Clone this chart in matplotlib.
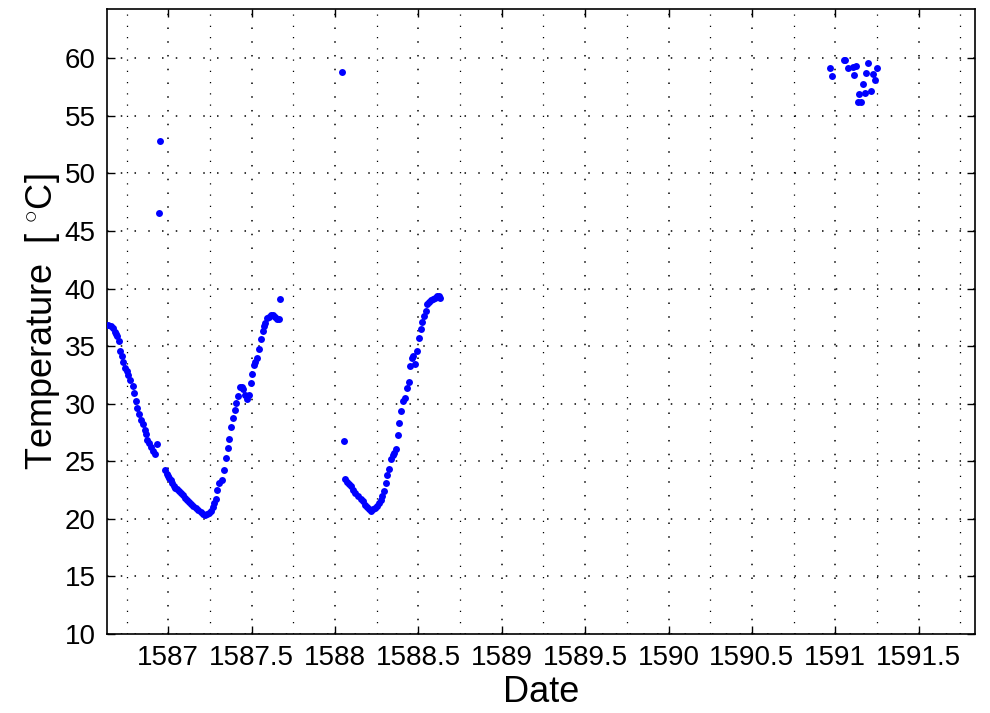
import numpy as np
import matplotlib
matplotlib.use('Agg')
import matplotlib.pyplot as plt
from matplotlib.ticker import MultipleLocator

# Data (date units, deg C)
date_a = [1586.638, 1586.654, 1586.666, 1586.678, 1586.688, 1586.694, 1586.702, 1586.710,
          1586.722, 1586.730, 1586.742, 1586.750, 1586.758, 1586.770, 1586.786, 1586.794,
          1586.806, 1586.814, 1586.826, 1586.838, 1586.846, 1586.858, 1586.866, 1586.874,
          1586.886, 1586.894, 1586.906, 1586.918, 1586.930, 1586.942, 1586.950]
temp_a = [36.83, 36.75, 36.55, 36.25, 36.03, 35.85, 35.45, 34.58,
          34.12, 33.65, 33.13, 32.84, 32.49, 32.03, 31.56, 30.90,
          30.23, 29.60, 29.13, 28.61, 28.21, 27.69, 27.34, 26.87,
          26.59, 26.27, 25.89, 25.61, 26.47, 46.54, 52.81]

date_b = [1586.980, 1586.990, 1586.998, 1587.006, 1587.014, 1587.022, 1587.034, 1587.042,
          1587.054, 1587.066, 1587.078, 1587.090, 1587.102, 1587.114, 1587.126, 1587.138,
          1587.150, 1587.166, 1587.178, 1587.194, 1587.210, 1587.222, 1587.234, 1587.246,
          1587.254, 1587.266, 1587.274, 1587.286, 1587.294, 1587.306, 1587.322, 1587.334,
          1587.346, 1587.358, 1587.366, 1587.378, 1587.386, 1587.398, 1587.406, 1587.418,
          1587.430, 1587.442, 1587.450, 1587.458, 1587.470, 1587.482, 1587.494, 1587.502,
          1587.514, 1587.522, 1587.534, 1587.546, 1587.554, 1587.566, 1587.574, 1587.582,
          1587.594, 1587.606, 1587.618, 1587.630, 1587.642, 1587.654, 1587.662, 1587.670]
temp_b = [24.22, 23.92, 23.70, 23.52, 23.35, 23.11, 22.88, 22.70,
          22.59, 22.42, 22.24, 22.07, 21.84, 21.66, 21.49, 21.32,
          21.14, 20.92, 20.79, 20.62, 20.45, 20.33, 20.40, 20.51,
          20.68, 21.05, 21.35, 21.75, 22.51, 23.09, 23.37, 24.22,
          25.26, 26.15, 26.91, 27.95, 28.76, 29.45, 30.09, 30.67,
          31.42, 31.48, 31.30, 30.73, 30.38, 30.73, 31.77, 32.58,
          33.33, 33.62, 33.97, 34.72, 35.59, 36.29, 36.75, 36.98,
          37.44, 37.56, 37.68, 37.68, 37.56, 37.38, 37.33, 39.07]

date_c = [1588.044, 1588.054, 1588.062, 1588.074, 1588.086, 1588.098, 1588.110, 1588.122,
          1588.138, 1588.154, 1588.170, 1588.182, 1588.194, 1588.206, 1588.218, 1588.230,
          1588.242, 1588.254, 1588.266, 1588.274, 1588.282, 1588.294, 1588.306, 1588.314,
          1588.322, 1588.334, 1588.346, 1588.354, 1588.366, 1588.378, 1588.386, 1588.398,
          1588.410, 1588.418, 1588.430, 1588.442, 1588.450, 1588.462, 1588.470, 1588.482,
          1588.494, 1588.502, 1588.514, 1588.522, 1588.534, 1588.546, 1588.554, 1588.566,
          1588.574, 1588.586, 1588.598, 1588.610, 1588.622, 1588.630]
temp_c = [58.78, 26.79, 23.43, 23.20, 23.03, 22.85, 22.51, 22.27,
          21.98, 21.70, 21.52, 21.23, 21.00, 20.83, 20.71, 20.83,
          20.94, 21.12, 21.35, 21.64, 21.98, 22.44, 23.09, 23.78,
          24.36, 25.17, 25.57, 25.74, 26.04, 27.28, 28.35, 29.37,
          30.23, 30.52, 31.34, 31.86, 33.25, 34.00, 34.17, 33.42,
          34.58, 35.68, 36.49, 37.12, 37.64, 38.05, 38.63, 38.86,
          38.98, 39.09, 39.21, 39.33, 39.33, 39.15]

date_d = [1590.969, 1590.981, 1591.053, 1591.061, 1591.077, 1591.106, 1591.113, 1591.125,
          1591.137, 1591.145, 1591.157, 1591.166, 1591.178, 1591.185, 1591.197, 1591.214,
          1591.229, 1591.241, 1591.250]
temp_d = [59.13, 58.49, 59.85, 59.85, 59.13, 59.21, 58.55, 59.35,
          56.21, 56.90, 56.23, 57.79, 56.96, 58.72, 59.59, 57.18,
          58.63, 58.14, 59.15]

dates = np.concatenate([date_a, date_b, date_c, date_d])
temps = np.concatenate([temp_a, temp_b, temp_c, temp_d])

plt.rcParams['font.family'] = ['Liberation Sans', 'DejaVu Sans']
plt.rcParams['mathtext.fontset'] = 'custom'
plt.rcParams['mathtext.rm'] = 'Liberation Sans'
plt.rcParams['mathtext.it'] = 'Liberation Sans'

fig = plt.figure(figsize=(9.9, 7.13), dpi=100)
ax = fig.add_axes([0.108, 0.1108, 0.877, 0.8766])

ax.plot(dates, temps, 'o', color=(0, 0, 1), markersize=5.0, markeredgewidth=0, zorder=3)

ax.set_xlim(1586.632, 1591.839)
ax.set_ylim(10, 64.28)
ax.xaxis.set_major_locator(MultipleLocator(0.5))
ax.xaxis.set_minor_locator(MultipleLocator(0.25))
ax.yaxis.set_major_locator(MultipleLocator(5))
ax.xaxis.set_major_formatter(plt.FuncFormatter(lambda v, p: f'{v:g}'))

# MATLAB style dotted grid
ax.grid(which='major', color='black', linestyle=(0, (1, 8)), linewidth=1.1)
ax.grid(which='minor', axis='x', color='black', linestyle=(0, (1, 8)), linewidth=0.9)
ax.set_axisbelow(True)

ax.tick_params(which='major', direction='in', length=6, width=1.0, top=True, right=True,
               labelsize=20, pad=8)
ax.tick_params(which='minor', length=0)
for s in ax.spines.values():
    s.set_linewidth(1.2)

ax.set_xlabel('Date', fontsize=26, labelpad=3)
ax.set_ylabel(r'Temperature  [ $^{\circ}$C]', fontsize=26, labelpad=2)

fig.savefig('out.png', dpi=100)
